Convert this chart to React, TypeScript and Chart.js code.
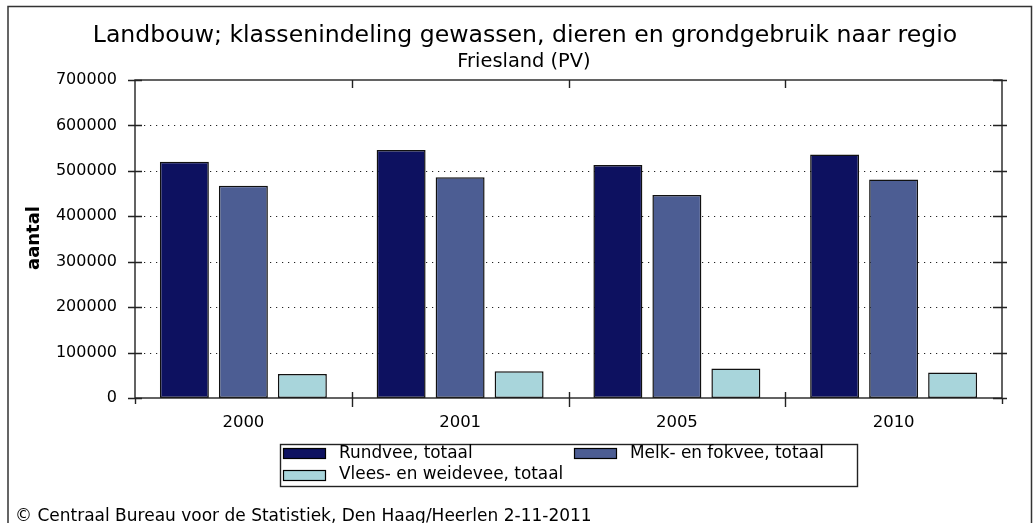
import React, { useEffect, useRef } from 'react';
import { Chart, registerables } from 'chart.js';

Chart.register(...registerables);

const years = ['2000', '2001', '2005', '2010'];
const rundvee = [520000, 546000, 513000, 536000];
const melkFokvee = [467000, 486000, 447000, 481000];
const vleesWeidevee = [53000, 59000, 65000, 56000];
const seriesNames = ['Rundvee, totaal', 'Melk- en fokvee, totaal', 'Vlees- en weidevee, totaal'];
const seriesColors = ['#0d1160', '#4c5d93', '#a8d5db'];
const yTickValues = [0, 100000, 200000, 300000, 400000, 500000, 600000, 700000];
const titleText = 'Landbouw; klassenindeling gewassen, dieren en grondgebruik naar regio';
const subtitleText = 'Friesland (PV)';
const yAxisTitle = 'aantal';
const footerText = '© Centraal Bureau voor de Statistiek, Den Haag/Heerlen 2-11-2011';

const FONT = '"DejaVu Sans", Verdana, sans-serif';
const LINE = '#222';

const decorPlugin = {
  id: 'decor',
  beforeDraw(chart: any) {
    const ctx = chart.ctx;
    ctx.save();
    ctx.fillStyle = '#fff';
    ctx.fillRect(0, 0, chart.width, chart.height);
    ctx.strokeStyle = '#333';
    ctx.lineWidth = 1.5;
    ctx.beginPath();
    ctx.moveTo(8, chart.height);
    ctx.lineTo(8, 6.5);
    ctx.lineTo(1031.5, 6.5);
    ctx.lineTo(1031.5, chart.height);
    ctx.stroke();
    ctx.restore();
  },
  beforeDatasetsDraw(chart: any) {
    const ctx = chart.ctx;
    const { left, right } = chart.chartArea;
    const y = chart.scales.y;
    ctx.save();
    ctx.strokeStyle = '#222';
    ctx.lineWidth = 1.2;
    ctx.setLineDash([1.2, 4.8]);
    yTickValues.forEach((v) => {
      if (v === 0 || v === 700000) return;
      const py = Math.round(y.getPixelForValue(v)) + 0.5;
      ctx.beginPath();
      ctx.moveTo(left + 3, py);
      ctx.lineTo(right, py);
      ctx.stroke();
    });
    ctx.restore();
  },
  afterDatasetsDraw(chart: any) {
    const ctx = chart.ctx;
    const { left, right, top, bottom } = chart.chartArea;
    const y = chart.scales.y;
    ctx.save();
    // plot frame
    ctx.strokeStyle = LINE;
    ctx.lineWidth = 1.4;
    ctx.strokeRect(left, top, right - left, bottom - top);
    // y tick marks (left & right)
    yTickValues.forEach((v) => {
      const py = Math.round(y.getPixelForValue(v)) + 0.5;
      ctx.beginPath();
      ctx.moveTo(left - 7, py);
      ctx.lineTo(left + 7, py);
      ctx.moveTo(right - 9, py);
      ctx.lineTo(right + 5, py);
      ctx.stroke();
    });
    // x category boundary ticks
    const n = years.length;
    const cw = (right - left) / n;
    for (let i = 0; i <= n; i++) {
      const px = Math.round(left + i * cw) + 0.5;
      ctx.beginPath();
      if (i > 0 && i < n) {
        ctx.moveTo(px, bottom - 6);
        ctx.lineTo(px, bottom + 9);
        ctx.moveTo(px, top);
        ctx.lineTo(px, top + 8);
      } else {
        ctx.moveTo(px, bottom);
        ctx.lineTo(px, bottom + 6);
      }
      ctx.stroke();
    }

    // titles
    ctx.fillStyle = '#000';
    ctx.textAlign = 'center';
    ctx.textBaseline = 'alphabetic';
    ctx.font = `23.6px ${FONT}`;
    ctx.fillText(titleText, 525, 42);
    ctx.font = `19.4px ${FONT}`;
    ctx.fillText(subtitleText, 524, 67);

    // y axis title
    ctx.save();
    ctx.translate(34, 238);
    ctx.rotate(-Math.PI / 2);
    ctx.font = `bold 18px ${FONT}`;
    ctx.textBaseline = 'middle';
    ctx.fillText(yAxisTitle, 0, 0);
    ctx.restore();

    // legend
    ctx.lineWidth = 1.4;
    ctx.strokeStyle = LINE;
    ctx.strokeRect(280.5, 444.5, 577, 42);
    const colX = [283, 574];
    const rowY = [448, 470];
    const rowBase = [458, 479];
    ctx.font = `16.9px ${FONT}`;
    ctx.textAlign = 'left';
    chart.data.datasets.forEach((ds: any, i: number) => {
      const col = i % 2;
      const row = Math.floor(i / 2);
      const sx = colX[col];
      const sy = rowY[row];
      ctx.fillStyle = ds.backgroundColor;
      ctx.fillRect(sx, sy, 43, 11);
      ctx.lineWidth = 1.2;
      ctx.strokeStyle = '#000';
      ctx.strokeRect(sx + 0.5, sy + 0.5, 42, 10);
      ctx.fillStyle = '#000';
      ctx.fillText(ds.label, sx + 56, rowBase[row]);
    });

    // footer
    ctx.font = `17px ${FONT}`;
    ctx.fillText(footerText, 15, 521);
    ctx.restore();
  },
};

export default function App() {
  const canvasRef = useRef<HTMLCanvasElement | null>(null);

  useEffect(() => {
    const canvas = canvasRef.current;
    if (!canvas) return;
    const data = [rundvee, melkFokvee, vleesWeidevee];
    const chart = new Chart(canvas, {
      type: 'bar',
      data: {
        labels: years,
        datasets: data.map((d, i) => ({
          label: seriesNames[i],
          data: d,
          backgroundColor: seriesColors[i],
          borderColor: '#111',
          borderWidth: 1.5,
          borderSkipped: false,
          categoryPercentage: 0.8166,
          barPercentage: 0.83,
        })),
      },
      options: {
        responsive: false,
        animation: false,
        devicePixelRatio: 1,
        layout: { padding: { left: 0, top: 80, right: 31, bottom: 0 } },
        plugins: {
          legend: { display: false },
          title: { display: false },
          tooltip: { enabled: false },
        },
        scales: {
          x: {
            grid: { display: false, drawTicks: false },
            border: { display: false },
            ticks: {
              font: { family: FONT, size: 16.5 },
              color: '#000',
              padding: 15,
              maxRotation: 0,
            },
            afterFit: (s: any) => {
              s.height = 125;
            },
          },
          y: {
            min: 0,
            max: 700000,
            grid: { display: false, drawTicks: false },
            border: { display: false },
            ticks: {
              stepSize: 100000,
              font: { family: FONT, size: 16 },
              color: '#000',
              padding: 18,
              callback: (v: any) => String(v),
            },
            afterFit: (s: any) => {
              s.width = 135;
            },
          },
        },
      },
      plugins: [decorPlugin],
    });
    return () => chart.destroy();
  }, []);

  return (
    <div style={{ position: 'absolute', left: 0, top: 0, width: 1033, height: 523, background: '#fff' }}>
      <canvas ref={canvasRef} width={1033} height={523} style={{ width: 1033, height: 523, display: 'block' }} />
    </div>
  );
}
